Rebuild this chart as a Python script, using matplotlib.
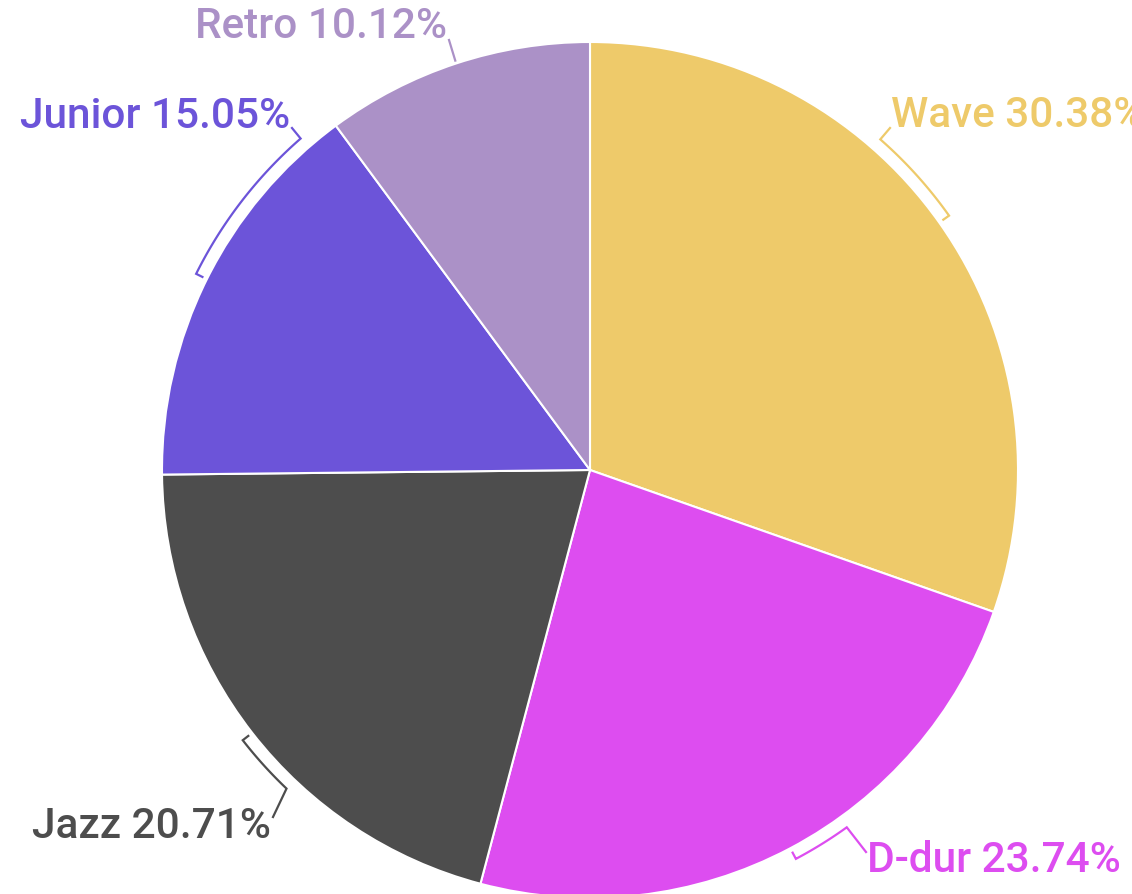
import numpy as np
import matplotlib
matplotlib.use('Agg')
import matplotlib.pyplot as plt

labels = ['Wave', 'D-dur', 'Jazz', 'Junior', 'Retro']
shares = [30.38, 23.74, 20.71, 15.05, 10.12]
colors = ['#EECA6A', '#DD4DF0', '#4D4D4D', '#6C54D9', '#AB91C7']

# layout in pixels from top-left: leader end, text baseline anchor, bracket span (deg)
leader_end = [(890, 128), (866, 852), (273, 817), (292, 128), (449, 40)]
text_at = [(891, 127), (867, 872), (271, 838), (290, 128), (447, 38)]
text_ha = ['left', 'left', 'right', 'right', 'right']
bracket_span = [-13.4, -7.8, -8.5, 22.4, 0.0]

W, H = 1132, 894
CX, CY, R = 590, 894 - 470, 428

plt.rcParams['font.family'] = ['Roboto', 'DejaVu Sans']

fig = plt.figure(figsize=(W / 100, H / 100), dpi=100)
ax = fig.add_axes([0, 0, 1, 1])

wedges, _ = ax.pie(shares, colors=colors, startangle=90, counterclock=False,
                   center=(CX, CY), radius=R,
                   wedgeprops=dict(edgecolor='white', linewidth=1.5))

# clockwise angle from the top -> data coords
def pt(ang, r):
    a = np.radians(ang)
    return CX + r * np.sin(a), CY + r * np.cos(a)

cum = np.cumsum([0] + shares) / sum(shares) * 360
for i, lab in enumerate(labels):
    mid = (cum[i] + cum[i + 1]) / 2
    end = mid + bracket_span[i]
    lx, ly = leader_end[i][0], H - leader_end[i][1]
    if bracket_span[i] != 0:
        angs = np.linspace(mid, end, 40)
        arc = [pt(a, 440) for a in angs]
        tick = pt(mid, 433)
        xs = [tick[0]] + [p[0] for p in arc] + [lx]
        ys = [tick[1]] + [p[1] for p in arc] + [ly]
    else:
        s = pt(mid, 431)
        xs, ys = [s[0], lx], [s[1], ly]
    ax.plot(xs, ys, color=colors[i], lw=1.6, solid_joinstyle='miter')
    tx, ty = text_at[i][0], H - text_at[i][1]
    ax.text(tx, ty, f'{lab} {shares[i]:.2f}%', color=colors[i], fontsize=30.5,
            fontweight='medium', ha=text_ha[i], va='baseline')

ax.set_xlim(0, W)
ax.set_ylim(0, H)
ax.set_aspect('equal')
ax.axis('off')

fig.savefig('out.png', dpi=100)
